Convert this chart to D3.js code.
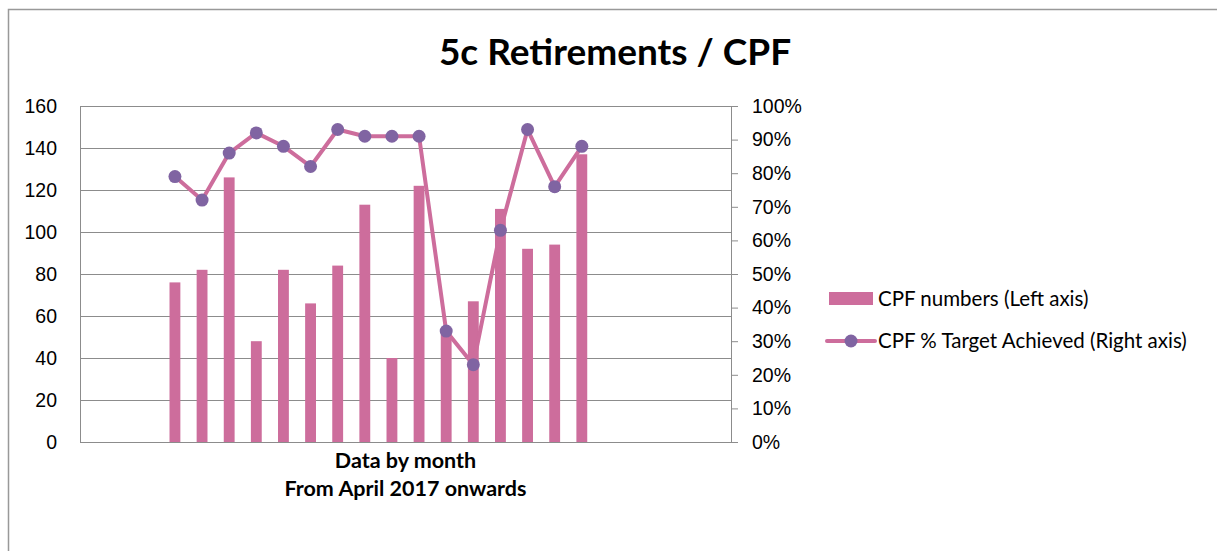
<!DOCTYPE html>
<html>
<head>
<meta charset="utf-8">
<script src="https://cdn.jsdelivr.net/npm/d3@7"></script>
<style>
  body { margin: 0; background: #fff; }
  svg { display: block; font-family: Lato, "Open Sans", sans-serif; }
  .tick text { fill: #000; }
</style>
</head>
<body>
<div id="chart"></div>
<script>
// Data: 24 monthly slots, the first 3 and last 5 are empty
var slots = [1, 2, 3, 4, 5, 6, 7, 8, 9, 10, 11, 12, 13, 14, 15, 16, 17, 18, 19, 20, 21, 22, 23, 24]
var cpfNumbers = [null, null, null, 76, 82, 126, 48, 82, 66, 84, 113, 40, 122, 52, 67, 111, 92, 94, 137, null, null, null, null, null]
var cpfTarget = [null, null, null, 0.79, 0.72, 0.86, 0.92, 0.88, 0.82, 0.93, 0.91, 0.91, 0.91, 0.33, 0.23, 0.63, 0.93, 0.76, 0.88, null, null, null, null, null]
var leftTicks = [0, 20, 40, 60, 80, 100, 120, 140, 160]
var rightTicks = [0, 0.1, 0.2, 0.3, 0.4, 0.5, 0.6, 0.7, 0.8, 0.9, 1]
var legendLabels = ["CPF numbers (Left axis)", "CPF % Target Achieved (Right axis)"]

var width = 1217
var height = 551
var margin = { top: 106, right: 486, bottom: 109, left: 80 }

var barColor = '#cd6d9c'
var markerColor = '#8064a2'
var gridColor = '#8c8c8c'

var svg = d3.select("#chart")
  .append("svg")
  .attr("width", width)
  .attr("height", height)

// Chart border
svg.append('rect')
  .attr('x', 8.5)
  .attr('y', 9.5)
  .attr('width', width + 20)
  .attr('height', height + 20)
  .attr('fill', 'none')
  .attr('stroke', '#999')
  .attr('stroke-width', 1.5)

// Title
svg.append('text')
  .attr('x', 615)
  .attr('y', 65)
  .attr('text-anchor', 'middle')
  .style('font-size', '37px')
  .style('font-weight', 'bold')
  .text('5c Retirements / CPF')

// Add X scale
var xScale = d3.scaleBand()
  .domain(slots)
  .range([margin.left, width - margin.right])
  .paddingInner(0.6)
  .paddingOuter(0.3)

// Add Y scales
var yLeft = d3.scaleLinear()
  .domain([0, 160])
  .range([height - margin.bottom, margin.top])

var yRight = d3.scaleLinear()
  .domain([0, 1])
  .range([height - margin.bottom, margin.top])

// Render Y grid
svg.append("g")
  .attr("transform", `translate(${margin.left},0)`)
  .attr("class", "grid")
  .call(d3.axisLeft(yLeft)
    .tickValues(leftTicks)
    .tickSize(-(width - margin.left - margin.right))
    .tickFormat(""))
  .call(g => g.select('.domain').remove())
  .selectAll('line')
  .attr('stroke', gridColor)

// Render left Y axis
svg.append("g")
  .attr("transform", `translate(${margin.left},0)`)
  .attr('class', 'y-axis')
  .call(d3.axisLeft(yLeft)
    .tickValues(leftTicks)
    .tickSize(0)
    .tickPadding(23))
  .call(g => g.select('.domain').attr('stroke', gridColor))
  .selectAll("text")
  .style('font-size', '19.5px')

// Render right Y axis
svg.append("g")
  .attr("transform", `translate(${width - margin.right},0)`)
  .attr('class', 'y-axis-right')
  .call(d3.axisRight(yRight)
    .tickValues(rightTicks)
    .tickSize(7)
    .tickSizeOuter(0)
    .tickPadding(14)
    .tickFormat(d3.format('.0%')))
  .call(g => g.select('.domain').attr('stroke', gridColor))
  .call(g => g.selectAll('line').attr('stroke', gridColor))
  .selectAll("text")
  .style('font-size', '19.5px')

// Render X axis line
svg.append("g")
  .attr("transform", `translate(0,${height - margin.bottom})`)
  .attr('class', 'x-axis')
  .call(d3.axisBottom(xScale).tickSize(0).tickFormat(""))
  .call(g => g.select('.domain').attr('stroke', gridColor))

// X axis title
var xTitle = svg.append('text')
  .attr('x', (margin.left + width - margin.right) / 2)
  .attr('text-anchor', 'middle')
  .style('font-size', '21.5px')
  .style('font-weight', 'bold')

xTitle.append('tspan')
  .attr('x', (margin.left + width - margin.right) / 2)
  .attr('y', 468)
  .text('Data by month')

xTitle.append('tspan')
  .attr('x', (margin.left + width - margin.right) / 2)
  .attr('y', 496)
  .text('From April 2017 onwards')

// Bars
svg.append('g')
  .attr('class', 'bars')
  .selectAll('rect')
  .data(slots.filter((d, i) => cpfNumbers[i] != null))
  .enter()
  .append('rect')
  .attr('x', d => xScale(d))
  .attr('width', xScale.bandwidth())
  .attr('y', d => yLeft(cpfNumbers[d - 1]))
  .attr('height', d => yLeft(0) - yLeft(cpfNumbers[d - 1]))
  .attr('fill', barColor)

// Line on right axis
var line = d3.line()
  .defined(d => cpfTarget[d - 1] != null)
  .x(d => xScale(d) + xScale.bandwidth() / 2)
  .y(d => yRight(cpfTarget[d - 1]))

svg.append('path')
  .datum(slots)
  .attr('class', 'line')
  .attr('d', line)
  .attr('fill', 'none')
  .attr('stroke', barColor)
  .attr('stroke-width', 4)
  .attr('stroke-linejoin', 'round')

svg.append('g')
  .attr('class', 'dots')
  .selectAll('circle')
  .data(slots.filter((d, i) => cpfTarget[i] != null))
  .enter()
  .append('circle')
  .attr('cx', d => xScale(d) + xScale.bandwidth() / 2)
  .attr('cy', d => yRight(cpfTarget[d - 1]))
  .attr('r', 6.5)
  .attr('fill', markerColor)

// Legend
var legend = svg.append('g')
  .attr('class', 'legend')

legend.append('rect')
  .attr('x', 829)
  .attr('y', 292)
  .attr('width', 44)
  .attr('height', 13)
  .attr('fill', barColor)

legend.append('line')
  .attr('x1', 827)
  .attr('x2', 875)
  .attr('y1', 341)
  .attr('y2', 341)
  .attr('stroke', barColor)
  .attr('stroke-width', 4)
  .attr('stroke-linecap', 'round')

legend.append('circle')
  .attr('cx', 851)
  .attr('cy', 341)
  .attr('r', 6.5)
  .attr('fill', markerColor)

legend.selectAll('text')
  .data(legendLabels)
  .enter()
  .append('text')
  .attr('x', 878)
  .attr('y', (d, i) => 299 + i * 42)
  .attr('dy', '0.35em')
  .style('font-size', '20.5px')
  .text(d => d)
</script>
</body>
</html>
